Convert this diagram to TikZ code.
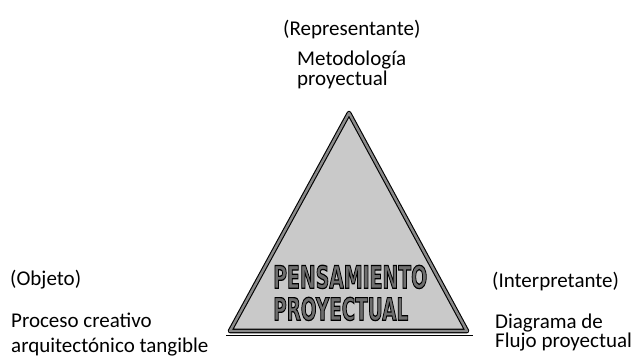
\documentclass[tikz,border=0pt]{standalone}
\usepackage{fontspec}
\setmainfont{Carlito}
\newfontfamily\blockfont[FakeBold=4]{DejaVu Sans Bold}
\definecolor{trifill}{HTML}{C9C9C9}
\definecolor{triedge}{HTML}{8A8A8A}
\definecolor{letterfill}{HTML}{6E6E6E}
\tikzset{
  label text/.style={inner sep=0, anchor=base west, align=left, font=\fontsize{21}{20}\selectfont},
  block word/.style={inner sep=0, anchor=north west}
}
% filled letters with a black stroke round them
\newcommand{\blockword}[2]{\resizebox{#1}{23pt}{\fontsize{20}{20}\blockfont\textcolor{letterfill}{\special{pdf:literal direct 0 0 0 RG}#2}}}

\begin{document}
\begin{tikzpicture}[x=1pt,y=-1pt]
	%%%%% START %%%%%
	\useasboundingbox (0,0) rectangle (643,360);
	
	\coordinate (apex) at (349,113);
	\coordinate (baseL) at (230,331);
	\coordinate (baseR) at (467,331);
	\draw[fill=trifill, line width=1.1pt, double=triedge, double distance=2.4pt, line join=round] (apex) -- (baseR) -- (baseL) -- cycle;
	\draw[line width=1pt] (226,335) -- (473,335);
	
	\node[block word] (pensamiento) at (273,265) {\blockword{154pt}{PENSAMIENTO}};
	\node[block word] (proyectual) at (273,297) {\blockword{135pt}{PROYECTUAL}};
	
	\node[label text] (representante) at (283,35) {(Representante)};
	\node[label text] (metodologia) at (297,85) {Metodología\\proyectual};
	
	\node[label text] (objeto) at (10,285) {(Objeto)};
	\node[label text, font=\fontsize{21}{25}\selectfont] (proceso) at (11,352) {Proceso creativo\\arquitectónico tangible};
	
	\node[label text, font=\fontsize{21}{19}\selectfont] (interpretante) at (492,287) {(Interpretante)};
	\node[label text, font=\fontsize{21}{19}\selectfont] (diagrama) at (495,347) {Diagrama de\\Flujo proyectual};
	
	%%%%% END %%%%%
\end{tikzpicture}
\end{document}
